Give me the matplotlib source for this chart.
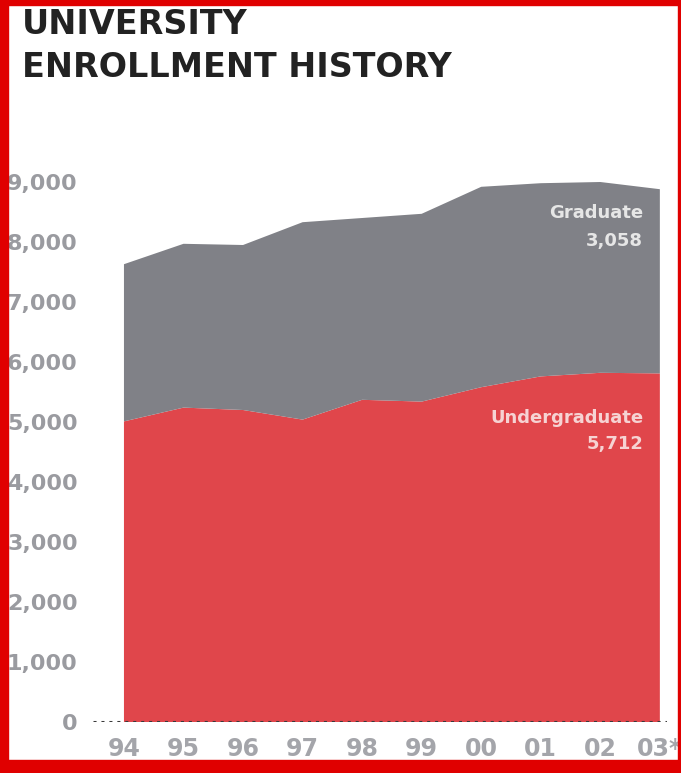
import matplotlib.pyplot as plt
from matplotlib.patches import Rectangle
import numpy as np

# enrollment by year
years = ["94", "95", "96", "97", "98", "99", "00", "01", "02", "03*"]
undergrad = [5010, 5240, 5200, 5040, 5370, 5340, 5580, 5760, 5820, 5810]
graduate = [2620, 2730, 2750, 3290, 3030, 3130, 3340, 3220, 3180, 3070]
yticks = [0, 1000, 2000, 3000, 4000, 5000, 6000, 7000, 8000, 9000]

RED = "#e0464b"
GRAY = "#808187"
TICK = "#9a9ba0"
BORDER = "#e00000"

W, H = 681, 773
fig = plt.figure(figsize=(W / 100, H / 100), dpi=100)
fig.patch.set_facecolor("white")

# axes placed in pixel terms
ax = fig.add_axes([93 / W, (H - 722) / H, (667 - 93) / W, (722 - 164) / H])
x = np.arange(len(years))
ax.stackplot(x, undergrad, graduate, colors=[RED, GRAY], linewidth=0)

ax.set_xlim(-0.52, 9.12)
ax.set_ylim(0, 9300)
for s in ax.spines.values():
    s.set_visible(False)

# dotted baseline
ax.axhline(0, color="#3a3a3a", linestyle=(0, (1, 1.6)), linewidth=2.2, zorder=5)

ax.set_yticks(yticks)
ax.set_yticklabels([f"{v:,}" for v in yticks])
ax.set_xticks(x)
ax.set_xticklabels(years)
ax.tick_params(axis="both", length=0, colors=TICK)
ax.tick_params(axis="y", pad=11, labelsize=16)
ax.tick_params(axis="x", pad=11, labelsize=17, colors="#a4a5aa")
for lab in ax.get_yticklabels():
    lab.set_fontweight("bold")
for lab in ax.get_xticklabels():
    lab.set_fontweight("semibold")

# series labels
ax.text(8.72, 8480, "Graduate", ha="right", va="center", color="#e6e6e6",
        fontsize=13, fontweight="bold")
ax.text(8.72, 8010, "3,058", ha="right", va="center", color="#e6e6e6",
        fontsize=13, fontweight="bold")
ax.text(8.72, 5060, "Undergraduate", ha="right", va="center", color="#f6d3d3",
        fontsize=13, fontweight="bold")
ax.text(8.72, 4640, "5,712", ha="right", va="center", color="#f6d3d3",
        fontsize=13, fontweight="bold")

# title
fig.text(22 / W, 1 - 34 / H, "UNIVERSITY", ha="left", va="baseline",
         fontsize=24, fontweight="bold", color="#222222")
fig.text(22 / W, 1 - 77 / H, "ENROLLMENT HISTORY", ha="left", va="baseline",
         fontsize=24, fontweight="bold", color="#222222")

# red frame around the picture
for (x0, y0, w, h) in [(0, 0, 8, H), (0, 0, W, 5), (0, 760, W, 13), (678, 0, 3, H)]:
    fig.patches.append(Rectangle((x0 / W, 1 - (y0 + h) / H), w / W, h / H,
                                 transform=fig.transFigure, color=BORDER,
                                 zorder=20))

fig.savefig("out.png", dpi=100)
